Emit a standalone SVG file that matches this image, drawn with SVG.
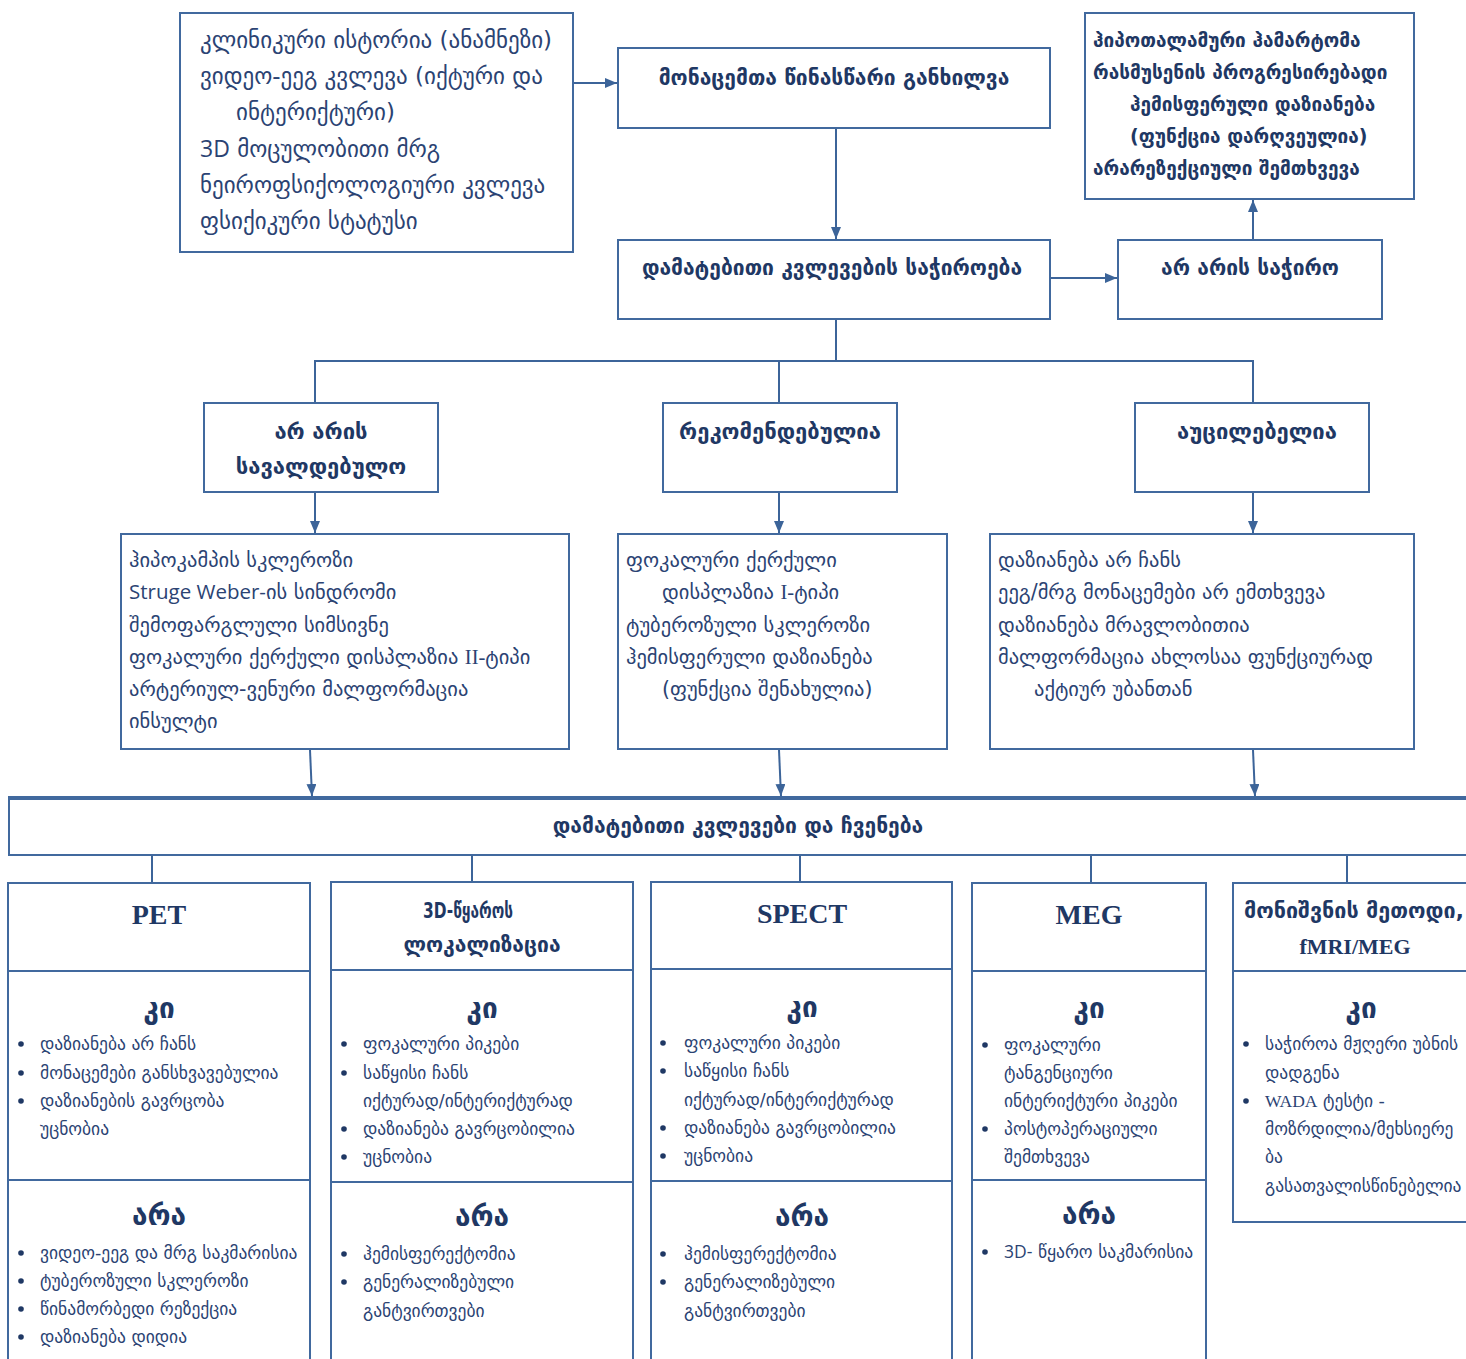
<svg xmlns="http://www.w3.org/2000/svg" width="1466" height="1359" viewBox="0 0 1466 1359">
<defs>
<marker id="ah" viewBox="0 0 12 10" refX="12" refY="5" markerWidth="12" markerHeight="10" markerUnits="userSpaceOnUse" orient="auto">
<path d="M0,0 L12,5 L0,10 Z" fill="#3c6499"/>
</marker>
<style>
.box{fill:#fff;stroke:#41699e;stroke-width:2}
.ln{fill:none;stroke:#41699e;stroke-width:2}
.c{fill:none;stroke:#3c6499;stroke-width:2}
text{font-family:"DejaVu Sans","Noto Sans",sans-serif;fill:#2b4373}
.r{font-size:20.5px}
.r1{font-size:23px}
.b{font-weight:bold;fill:#1f3864;font-size:21px}
.m{text-anchor:middle}
.hd{font-family:"Liberation Serif",serif;font-weight:bold;fill:#1f3864;font-size:28px}
.k{font-weight:bold;fill:#1f3864;font-size:28px}
.s{font-size:17.5px}
.lat{font-family:"Open Sans","Liberation Sans",sans-serif}
.ser{font-family:"Liberation Serif",serif}
.dot{fill:#1f3864}
</style>
</defs>

<g id="connectors">
<line class="c" x1="573" y1="83" x2="617" y2="83" marker-end="url(#ah)"/>
<line class="c" x1="836" y1="129" x2="836" y2="239" marker-end="url(#ah)"/>
<line class="c" x1="1051" y1="278" x2="1117" y2="278" marker-end="url(#ah)"/>
<line class="c" x1="1253" y1="240" x2="1253" y2="200" marker-end="url(#ah)"/>
<polyline class="c" points="836,320 836,361"/>
<polyline class="c" points="315,403 315,361 1253,361 1253,403"/>
<line class="c" x1="779" y1="361" x2="779" y2="403"/>
<line class="c" x1="315" y1="492" x2="315" y2="533" marker-end="url(#ah)"/>
<line class="c" x1="779" y1="492" x2="779" y2="533" marker-end="url(#ah)"/>
<line class="c" x1="1253" y1="492" x2="1253" y2="533" marker-end="url(#ah)"/>
<line class="c" x1="310" y1="750" x2="312" y2="796" marker-end="url(#ah)"/>
<line class="c" x1="779" y1="750" x2="781" y2="796" marker-end="url(#ah)"/>
<line class="c" x1="1253" y1="750" x2="1255" y2="796" marker-end="url(#ah)"/>
<line class="c" x1="152" y1="855" x2="152" y2="883"/>
<line class="c" x1="472" y1="855" x2="472" y2="882"/>
<line class="c" x1="800" y1="855" x2="800" y2="882"/>
<line class="c" x1="1091" y1="855" x2="1091" y2="883"/>
<line class="c" x1="1347" y1="855" x2="1347" y2="883"/>
</g>

<g id="n-sources">
<rect class="box" x="180" y="13" width="393" height="239"/>
<text class="r1" x="200" y="48">კლინიკური ისტორია (ანამნეზი)</text>
<text class="r1" x="200" y="84">ვიდეო-ეეგ კვლევა (იქტური და</text>
<text class="r1" x="236" y="120">ინტერიქტური)</text>
<text class="r1" x="200" y="157"><tspan class="lat">3D</tspan> მოცულობითი მრგ</text>
<text class="r1" x="200" y="193">ნეიროფსიქოლოგიური კვლევა</text>
<text class="r1" x="200" y="229">ფსიქიკური სტატუსი</text>
</g>

<g id="n-review">
<rect class="box" x="618" y="48" width="432" height="80"/>
<text class="b m" x="834" y="85">მონაცემთა წინასწარი განხილვა</text>
</g>

<g id="n-need">
<rect class="box" x="618" y="240" width="432" height="79"/>
<text class="b m" x="832" y="275">დამატებითი კვლევების საჭიროება</text>
</g>

<g id="n-notneeded">
<rect class="box" x="1118" y="240" width="264" height="79"/>
<text class="b m" x="1250" y="275">არ არის საჭირო</text>
</g>

<g id="n-cases">
<rect class="box" x="1085" y="13" width="329" height="186"/>
<text class="b" x="1093" y="47" style="font-size:19px">ჰიპოთალამური ჰამარტომა</text>
<text class="b" x="1093" y="79" style="font-size:19px">რასმუსენის პროგრესირებადი</text>
<text class="b" x="1130" y="111" style="font-size:19px">ჰემისფერული დაზიანება</text>
<text class="b" x="1130" y="143" style="font-size:19px">(ფუნქცია დარღვეულია)</text>
<text class="b" x="1093" y="175" style="font-size:19px">არარეზექციული შემთხვევა</text>
</g>

<g id="n-notmandatory">
<rect class="box" x="204" y="403" width="234" height="89"/>
<text class="b m" x="321" y="439" style="font-size:22px">არ არის</text>
<text class="b m" x="321" y="474" style="font-size:22px">სავალდებულო</text>
</g>

<g id="n-recommended">
<rect class="box" x="663" y="403" width="234" height="89"/>
<text class="b m" x="780" y="439" style="font-size:22px">რეკომენდებულია</text>
</g>

<g id="n-necessary">
<rect class="box" x="1135" y="403" width="234" height="89"/>
<text class="b m" x="1257" y="439" style="font-size:22px">აუცილებელია</text>
</g>

<g id="n-list1">
<rect class="box" x="121" y="534" width="448" height="215"/>
<text class="r" x="129" y="567">ჰიპოკამპის სკლეროზი</text>
<text class="r" x="129" y="599"><tspan class="lat">Struge Weber-</tspan>ის სინდრომი</text>
<text class="r" x="129" y="632">შემოფარგლული სიმსივნე</text>
<text class="r" x="129" y="664">ფოკალური ქერქული დისპლაზია <tspan class="ser">II-</tspan>ტიპი</text>
<text class="r" x="129" y="696">არტერიულ-ვენური მალფორმაცია</text>
<text class="r" x="129" y="728">ინსულტი</text>
</g>

<g id="n-list2">
<rect class="box" x="618" y="534" width="329" height="215"/>
<text class="r" x="626" y="567">ფოკალური ქერქული</text>
<text class="r" x="662" y="599">დისპლაზია <tspan class="ser">I-</tspan>ტიპი</text>
<text class="r" x="626" y="632">ტუბეროზული სკლეროზი</text>
<text class="r" x="626" y="664">ჰემისფერული დაზიანება</text>
<text class="r" x="662" y="696">(ფუნქცია შენახულია)</text>
</g>

<g id="n-list3">
<rect class="box" x="990" y="534" width="424" height="215"/>
<text class="r" x="998" y="567">დაზიანება არ ჩანს</text>
<text class="r" x="998" y="599">ეეგ/მრგ მონაცემები არ ემთხვევა</text>
<text class="r" x="998" y="632">დაზიანება მრავლობითია</text>
<text class="r" x="998" y="664">მალფორმაცია ახლოსაა ფუნქციურად</text>
<text class="r" x="1034" y="696">აქტიურ უბანთან</text>
</g>

<g id="n-bar">
<rect class="box" x="9" y="797" width="1470" height="58"/>
<line class="ln" x1="9" y1="799" x2="1466" y2="799"/>
<text class="b m" x="738" y="833">დამატებითი კვლევები და ჩვენება</text>
</g>

<g id="n-pet">
<rect class="box" x="8" y="883" width="302" height="490"/>
<line class="ln" x1="8" y1="971" x2="310" y2="971"/>
<line class="ln" x1="8" y1="1180" x2="310" y2="1180"/>
<text class="hd m" x="159" y="924">PET</text>
<text class="k m" x="159" y="1018">კი</text>
<circle class="dot" cx="21" cy="1044" r="2.8"/><text class="s" x="40" y="1050">დაზიანება არ ჩანს</text>
<circle class="dot" cx="21" cy="1073" r="2.8"/><text class="s" x="40" y="1079">მონაცემები განსხვავებულია</text>
<circle class="dot" cx="21" cy="1101" r="2.8"/><text class="s" x="40" y="1107">დაზიანების გავრცობა</text>
<text class="s" x="40" y="1135">უცნობია</text>
<text class="k m" x="159" y="1225">არა</text>
<circle class="dot" cx="21" cy="1253" r="2.8"/><text class="s" x="40" y="1259">ვიდეო-ეეგ და მრგ საკმარისია</text>
<circle class="dot" cx="21" cy="1281" r="2.8"/><text class="s" x="40" y="1287">ტუბეროზული სკლეროზი</text>
<circle class="dot" cx="21" cy="1309" r="2.8"/><text class="s" x="40" y="1315">წინამორბედი რეზექცია</text>
<circle class="dot" cx="21" cy="1337" r="2.8"/><text class="s" x="40" y="1343">დაზიანება დიდია</text>
</g>

<g id="n-3d">
<rect class="box" x="331" y="882" width="302" height="490"/>
<line class="ln" x1="331" y1="970" x2="633" y2="970"/>
<line class="ln" x1="331" y1="1182" x2="633" y2="1182"/>
<text class="b" x="423" y="918" style="font-size:21px" textLength="90" lengthAdjust="spacingAndGlyphs">3D-წყაროს</text>
<text class="b m" x="482" y="952" style="font-size:21px">ლოკალიზაცია</text>
<text class="k m" x="482" y="1018">კი</text>
<circle class="dot" cx="344" cy="1044" r="2.8"/><text class="s" x="363" y="1050">ფოკალური პიკები</text>
<circle class="dot" cx="344" cy="1073" r="2.8"/><text class="s" x="363" y="1079">საწყისი  ჩანს</text>
<text class="s" x="363" y="1107">იქტურად/ინტერიქტურად</text>
<circle class="dot" cx="344" cy="1129" r="2.8"/><text class="s" x="363" y="1135">დაზიანება გავრცობილია</text>
<circle class="dot" cx="344" cy="1157" r="2.8"/><text class="s" x="363" y="1163">უცნობია</text>
<text class="k m" x="482" y="1226">არა</text>
<circle class="dot" cx="344" cy="1254" r="2.8"/><text class="s" x="363" y="1260">ჰემისფერექტომია</text>
<circle class="dot" cx="344" cy="1282" r="2.8"/><text class="s" x="363" y="1288">გენერალიზებული</text>
<text class="s" x="363" y="1317">განტვირთვები</text>
</g>

<g id="n-spect">
<rect class="box" x="651" y="882" width="301" height="490"/>
<line class="ln" x1="651" y1="969" x2="952" y2="969"/>
<line class="ln" x1="651" y1="1181" x2="952" y2="1181"/>
<text class="hd m" x="802" y="923">SPECT</text>
<text class="k m" x="802" y="1017">კი</text>
<circle class="dot" cx="663" cy="1043" r="2.8"/><text class="s" x="684" y="1049">ფოკალური პიკები</text>
<circle class="dot" cx="663" cy="1071" r="2.8"/><text class="s" x="684" y="1077">საწყისი  ჩანს</text>
<text class="s" x="684" y="1106">იქტურად/ინტერიქტურად</text>
<circle class="dot" cx="663" cy="1128" r="2.8"/><text class="s" x="684" y="1134">დაზიანება გავრცობილია</text>
<circle class="dot" cx="663" cy="1156" r="2.8"/><text class="s" x="684" y="1162">უცნობია</text>
<text class="k m" x="802" y="1226">არა</text>
<circle class="dot" cx="663" cy="1254" r="2.8"/><text class="s" x="684" y="1260">ჰემისფერექტომია</text>
<circle class="dot" cx="663" cy="1282" r="2.8"/><text class="s" x="684" y="1288">გენერალიზებული</text>
<text class="s" x="684" y="1317">განტვირთვები</text>
</g>

<g id="n-meg">
<rect class="box" x="972" y="883" width="234" height="490"/>
<line class="ln" x1="972" y1="971" x2="1206" y2="971"/>
<line class="ln" x1="972" y1="1180" x2="1206" y2="1180"/>
<text class="hd m" x="1089" y="924">MEG</text>
<text class="k m" x="1089" y="1018">კი</text>
<circle class="dot" cx="985" cy="1045" r="2.8"/><text class="s" x="1004" y="1051">ფოკალური</text>
<text class="s" x="1004" y="1079">ტანგენციური</text>
<text class="s" x="1004" y="1107">ინტერიქტური პიკები</text>
<circle class="dot" cx="985" cy="1129" r="2.8"/><text class="s" x="1004" y="1135">პოსტოპერაციული</text>
<text class="s" x="1004" y="1163">შემთხვევა</text>
<text class="k m" x="1089" y="1224">არა</text>
<circle class="dot" cx="985" cy="1252" r="2.8"/><text class="s" x="1004" y="1258"><tspan class="lat">3D-</tspan> წყარო საკმარისია</text>
</g>

<g id="n-fmri">
<rect class="box" x="1233" y="883" width="250" height="339"/>
<line class="ln" x1="1233" y1="971" x2="1466" y2="971"/>
<text class="b" x="1244" y="918" style="font-size:21.5px">მონიშვნის მეთოდი,</text>
<text class="hd m" x="1355" y="954" style="font-size:22px">fMRI/MEG</text>
<text class="k m" x="1361" y="1018">კი</text>
<circle class="dot" cx="1246" cy="1044" r="2.8"/><text class="s" x="1265" y="1050">საჭიროა მჟღერი უბნის</text>
<text class="s" x="1265" y="1079">დადგენა</text>
<circle class="dot" cx="1246" cy="1101" r="2.8"/><text class="s" x="1265" y="1107"><tspan class="ser">WADA</tspan> ტესტი -</text>
<text class="s" x="1265" y="1135">მოზრდილია/მეხსიერე</text>
<text class="s" x="1265" y="1163">ბა</text>
<text class="s" x="1265" y="1192">გასათვალისწინებელია</text>
</g>
</svg>
